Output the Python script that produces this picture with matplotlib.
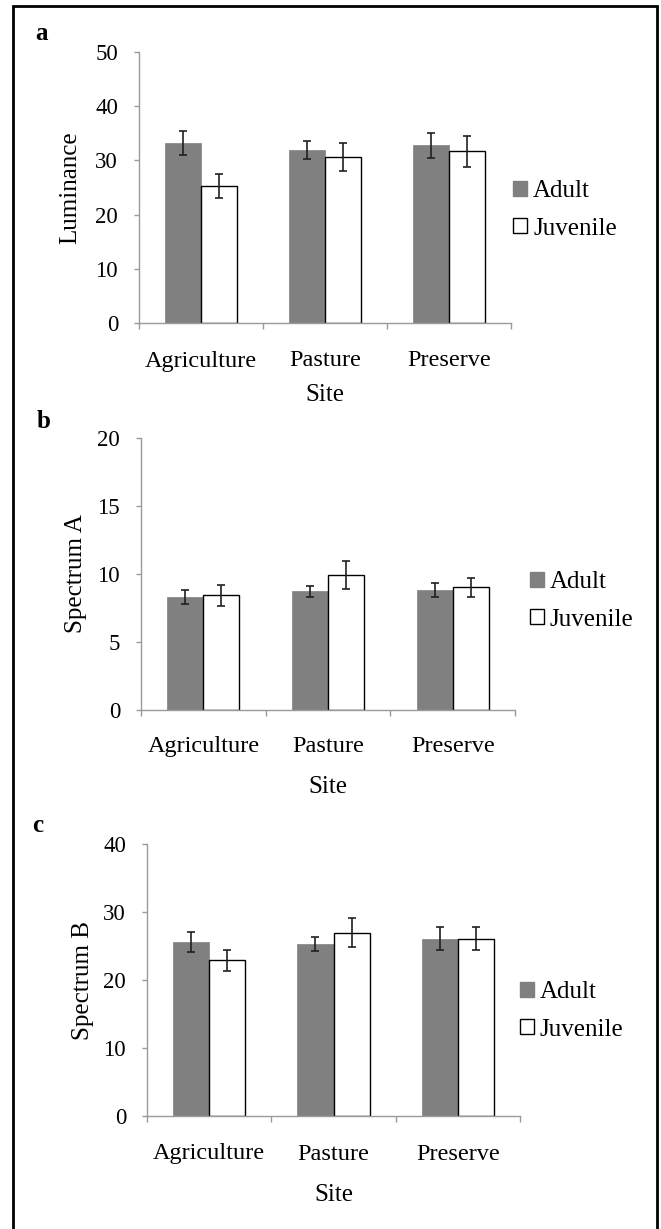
import matplotlib
matplotlib.use("Agg")
import matplotlib.pyplot as plt
from matplotlib.patches import Patch, Rectangle
import numpy as np

plt.rcParams['font.family'] = ['Liberation Serif', 'DejaVu Serif']

sites = ["Agriculture", "Pasture", "Preserve"]
groups = ["Adult", "Juvenile"]

lum_adult = [33.2, 31.9, 32.8]
lum_adult_err = [2.2, 1.7, 2.3]
lum_juv = [25.3, 30.6, 31.7]
lum_juv_err = [2.2, 2.6, 2.9]

specA_adult = [8.3, 8.7, 8.8]
specA_adult_err = [0.5, 0.42, 0.55]
specA_juv = [8.4, 9.9, 9.0]
specA_juv_err = [0.75, 1.05, 0.69]

specB_adult = [25.6, 25.3, 26.1]
specB_adult_err = [1.45, 1.0, 1.7]
specB_juv = [22.9, 27.0, 26.1]
specB_juv_err = [1.6, 2.15, 1.7]

panel_letters = ["a", "b", "c"]
ylabels = ["Luminance", "Spectrum A", "Spectrum B"]
ymaxes = [50, 20, 40]
ysteps = [10, 5, 10]
xlabel = "Site"

W, H = 661, 1229
fig = plt.figure(figsize=(W / 100, H / 100), dpi=100)

# layout in pixels
layouts = [
    dict(l=139, r=511, t=52.3, b=322.7, letter=(42, 34), ylx=70, caty=361, sitey=395, legx=513, legy=210),
    dict(l=141, r=515, t=437.7, b=709.7, letter=(44, 422), ylx=76, caty=747, sitey=787, legx=530, legy=601),
    dict(l=147, r=520, t=844.3, b=1116, letter=(38, 825), ylx=83, caty=1154, sitey=1195, legx=520, legy=1011),
]

data = [
    (lum_adult, lum_adult_err, lum_juv, lum_juv_err),
    (specA_adult, specA_adult_err, specA_juv, specA_juv_err),
    (specB_adult, specB_adult_err, specB_juv, specB_juv_err),
]

spine_col = "#9a9a9a"
adult_col = "#808080"
fs_tick = 16.5
fs_cat = 17.5
fs_lab = 18
fs_leg = 18
px = 0.72  # points per pixel

for i, L in enumerate(layouts):
    ax = fig.add_axes([L['l'] / W, 1 - L['b'] / H, (L['r'] - L['l']) / W, (L['b'] - L['t']) / H])
    a, ae, j, je = data[i]
    x = np.arange(len(sites))
    w = 0.29
    ekw = dict(elinewidth=1.2, capthick=1.2, ecolor="#202020")
    ax.bar(x - w / 2, a, w, color=adult_col, edgecolor=adult_col, linewidth=0.5,
           yerr=ae, capsize=2.6, error_kw=ekw, label=groups[0])
    ax.bar(x + w / 2, j, w, color="white", edgecolor="black", linewidth=1.0,
           yerr=je, capsize=2.6, error_kw=ekw, label=groups[1])

    ax.set_xlim(-0.5, 2.5)
    ax.set_ylim(0, ymaxes[i])
    ax.set_yticks(np.arange(0, ymaxes[i] + 0.1, ysteps[i]))
    ax.set_xticks(x)
    ax.set_xticklabels(sites, fontsize=fs_cat)
    ax.set_xticks([-0.5, 0.5, 1.5, 2.5], minor=True)
    ax.tick_params(axis='x', which='major', length=0, pad=(L['caty'] - L['b']) * px)
    ax.tick_params(axis='x', which='minor', length=5.5 * px, width=1.0, color=spine_col, direction='out')
    ax.tick_params(axis='y', which='major', length=5 * px, width=1.0, color=spine_col,
                   labelsize=fs_tick, pad=16 * px)
    for lbl in ax.get_xticklabels():
        lbl.set_va('center')
    for s in ['top', 'right']:
        ax.spines[s].set_visible(False)
    for s in ['left', 'bottom']:
        ax.spines[s].set_color(spine_col)
        ax.spines[s].set_linewidth(1.0)

    hgt = L['b'] - L['t']
    wid = L['r'] - L['l']
    ax.set_ylabel(ylabels[i], fontsize=fs_lab)
    ax.yaxis.set_label_coords((L['ylx'] - L['l']) / wid, 0.5)
    ax.yaxis.label.set_va('center')
    ax.set_xlabel(xlabel, fontsize=fs_lab)
    ax.xaxis.set_label_coords(0.5, (L['b'] - L['sitey']) / hgt)
    ax.xaxis.label.set_va('center')

    handles = [Patch(facecolor=adult_col, edgecolor=adult_col, label=groups[0]),
               Patch(facecolor="white", edgecolor="black", linewidth=1.0, label=groups[1])]
    fig.legend(handles=handles, loc='center left',
               bbox_to_anchor=(L['legx'] / W, 1 - L['legy'] / H),
               frameon=False, fontsize=fs_leg, handlelength=0.55, handleheight=0.55,
               handletextpad=0.25, labelspacing=0.62, borderpad=0, borderaxespad=0)

    fig.text(L['letter'][0] / W, 1 - L['letter'][1] / H, panel_letters[i],
             ha='center', va='center', fontsize=18, fontweight='bold')

# outer frame
fig.patches.append(Rectangle((12.5 / W, 1 - 1240 / H), (656.5 - 12.5) / W, (1240 - 5.5) / H,
                             transform=fig.transFigure, fill=False, edgecolor='black',
                             linewidth=2.0, clip_on=False))

fig.savefig("out.png", dpi=100)
